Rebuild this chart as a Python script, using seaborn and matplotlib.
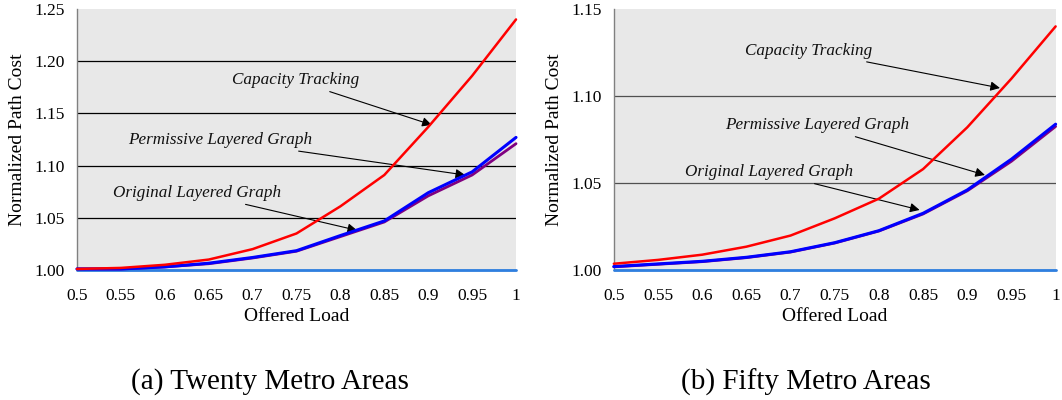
import numpy as np
import pandas as pd
import seaborn as sns
import matplotlib.pyplot as plt

# offered load on the x axis
load = [0.5, 0.55, 0.6, 0.65, 0.7, 0.75, 0.8, 0.85, 0.9, 0.95, 1.0]

# (a) twenty metro areas
cap20 = [1.001, 1.002, 1.005, 1.010, 1.020, 1.035, 1.061, 1.091, 1.137, 1.186, 1.240]
perm20 = [1.001, 1.001, 1.003, 1.0065, 1.012, 1.0185, 1.033, 1.047, 1.074, 1.094, 1.127]
orig20 = [1.001, 1.001, 1.003, 1.006, 1.0115, 1.018, 1.032, 1.046, 1.071, 1.091, 1.121]
base20 = [1.0] * 11

# (b) fifty metro areas
cap50 = [1.0036, 1.0058, 1.0088, 1.0134, 1.0198, 1.0297, 1.041, 1.058, 1.082, 1.110, 1.140]
perm50 = [1.002, 1.0035, 1.005, 1.0073, 1.0105, 1.0157, 1.0226, 1.0326, 1.046, 1.0637, 1.0838]
orig50 = [1.0018, 1.0033, 1.0048, 1.0071, 1.0103, 1.0155, 1.0224, 1.0322, 1.0455, 1.0625, 1.0825]
base50 = [1.0] * 11

xtick_labels = ["0.5", "0.55", "0.6", "0.65", "0.7", "0.75", "0.8", "0.85", "0.9", "0.95", "1"]

sns.set_style("white")
plt.rcParams['font.family'] = ['Liberation Serif', 'DejaVu Serif']
plt.rcParams['text.color'] = 'black'
plt.rcParams['axes.labelcolor'] = 'black'
plt.rcParams['xtick.labelcolor'] = 'black'
plt.rcParams['ytick.labelcolor'] = 'black'

colors = {"base": "#2f7fe0", "orig": "#800080", "perm": "#0000ff", "cap": "#ff0000"}
widths = {"base": 2.0, "orig": 2.0, "perm": 2.2, "cap": 1.8}

fig = plt.figure(figsize=(10.62, 4.0), dpi=100)
ax1 = fig.add_axes([0.0725, 0.325, 0.4134, 0.6525])
ax2 = fig.add_axes([0.578, 0.325, 0.416, 0.6525])


def draw(ax, series, yticks, grid_color, notes, caption, cx):
    ax.set_facecolor("#e8e8e8")
    for key, vals in series:
        sns.lineplot(x=load, y=vals, ax=ax, color=colors[key], linewidth=widths[key],
                     zorder=4, clip_on=False)
    for yv in yticks[1:-1]:
        ax.axhline(yv, color=grid_color, linewidth=0.9, zorder=1)
    ax.set_xlim(0.5, 1.0)
    ax.set_ylim(yticks[0], yticks[-1])
    ax.set_xticks(load)
    ax.set_xticklabels(xtick_labels)
    ax.set_yticks(yticks)
    ax.set_yticklabels([f"{v:.2f}" for v in yticks])
    for s in ["top", "right"]:
        ax.spines[s].set_visible(False)
    for s in ["left", "bottom"]:
        ax.spines[s].set_color("#808080")
        ax.spines[s].set_linewidth(1.0)
        ax.spines[s].set_zorder(2)
    ax.tick_params(axis="both", direction="out", length=5, width=1, color="#808080",
                   labelsize=12.5, labelcolor="black")
    ax.tick_params(axis="x", pad=8)
    ax.tick_params(axis="y", pad=4)
    ax.set_xlabel("Offered Load", fontsize=14, labelpad=3)
    ax.set_ylabel("Normalized Path Cost", fontsize=14, labelpad=6)
    for text, xy, xytext in notes:
        ax.annotate(text, xy=xy, xytext=xytext, fontsize=12.3, style="italic",
                    ha="left", va="bottom", color="#111111",
                    arrowprops=dict(arrowstyle="-|>", color="black", lw=0.8,
                                    mutation_scale=14, shrinkA=0, shrinkB=0))
    fig.text(cx, 0.045, caption, ha="center", va="center", fontsize=21)


notes20 = [
    ("Capacity Tracking", (0.904, 1.139), (0.676, 1.174)),
    ("Permissive Layered Graph", (0.942, 1.091), (0.558, 1.117)),
    ("Original Layered Graph", (0.819, 1.038), (0.541, 1.066)),
]
notes50 = [
    ("Capacity Tracking", (0.937, 1.1046), (0.649, 1.1215)),
    ("Permissive Layered Graph", (0.920, 1.0546), (0.626, 1.0785)),
    ("Original Layered Graph", (0.846, 1.0345), (0.581, 1.0515)),
]

draw(ax1, [("base", base20), ("orig", orig20), ("perm", perm20), ("cap", cap20)],
     [1.00, 1.05, 1.10, 1.15, 1.20, 1.25], "black", notes20,
     "(a) Twenty Metro Areas", 0.254)
draw(ax2, [("base", base50), ("orig", orig50), ("perm", perm50), ("cap", cap50)],
     [1.00, 1.05, 1.10, 1.15], "#505050", notes50,
     "(b) Fifty Metro Areas", 0.759)

fig.savefig("out.png", dpi=100)
